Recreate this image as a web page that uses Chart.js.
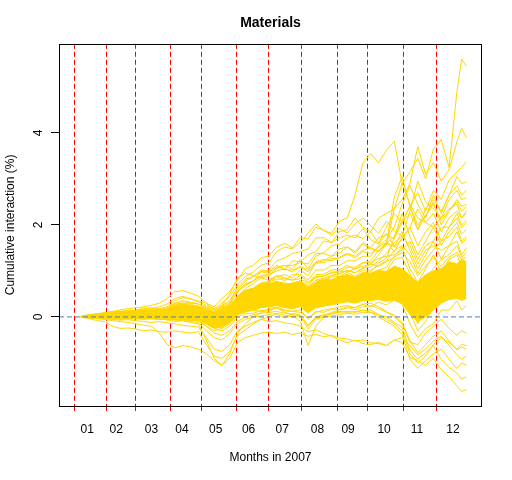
<!DOCTYPE html>
<html>
<head>
<meta charset="utf-8">
<script src="https://cdn.jsdelivr.net/npm/chart.js@4/dist/chart.umd.min.js"></script>
<style>
  body { margin: 0; background: #fff; }
  canvas { display: block; }
</style>
</head>
<body>
<canvas id="chart" width="512" height="480"></canvas>
<script>
// trading day index of each sample
const days = [5, 10, 15, 20, 25, 30, 35, 40, 45, 50, 55, 60, 65, 70, 75, 80, 85, 90, 95, 100,
  105, 110, 115, 120, 125, 130, 135, 140, 145, 150, 155, 160, 165, 170, 175, 180, 185, 190, 195, 200,
  205, 210, 215, 220, 225, 230, 235, 240, 245, 248, 251];

// first trading day of each month, and where the month labels sit
const monthStarts = [1, 21, 40, 62, 82, 104, 125, 146, 169, 188, 211, 232];
const monthTicks = [9, 27.5, 50, 69.5, 91, 112, 133.5, 156, 175.5, 198.5, 219.5, 242.5];
const monthLabels = ['01', '02', '03', '04', '05', '06', '07', '08', '09', '10', '11', '12'];
const yTicks = [0, 2, 4];

// dense core of the bundle
const coreHi = [0.02, 0.05, 0.07, 0.09, 0.11, 0.12, 0.13, 0.13, 0.15, 0.14, 0.16, 0.17, 0.24, 0.28, 0.25, 0.22,
  0.16, 0.1, 0.16, 0.26, 0.45, 0.58, 0.62, 0.7, 0.72, 0.78, 0.7, 0.74, 0.78, 0.62, 0.76, 0.82, 0.8,
  0.88, 0.92, 0.86, 0.96, 0.95, 1.02, 0.98, 1.1, 1.05, 0.9, 0.75, 0.92, 1.0, 1.05, 1.2, 1.15, 1.25, 1.2];
const coreLo = [-0.01, -0.02, -0.03, -0.04, -0.04, -0.05, -0.04, -0.04, -0.05, -0.04, -0.05, -0.06, -0.05, -0.07, -0.06, -0.08,
  -0.15, -0.25, -0.22, -0.12, 0.05, 0.12, 0.15, 0.2, 0.22, 0.25, 0.2, 0.18, 0.22, 0.1, 0.2, 0.24, 0.26,
  0.3, 0.33, 0.3, 0.35, 0.36, 0.38, 0.34, 0.36, 0.3, 0.05, -0.1, 0.0, 0.15, 0.3, 0.38, 0.4, 0.36, 0.4];

// individual firms
const series = [
  [0.01, 0.04, 0.06, 0.09, 0.12, 0.10, 0.15, 0.14, 0.20, 0.18, 0.22, 0.28, 0.40, 0.45, 0.38, 0.35, 0.30, 0.22, 0.40, 0.55,
   0.80, 1.05, 1.12, 1.28, 1.33, 1.52, 1.60, 1.50, 1.72, 1.70, 1.95, 1.88, 1.82, 2.08, 2.15, 2.65, 3.35, 3.55, 3.35, 3.62,
   3.82, 2.90, 3.15, 3.45, 3.00, 3.65, 3.85, 3.25, 4.90, 5.60, 5.45],
  [0.0, 0.02, 0.05, 0.04, 0.08, 0.1, 0.09, 0.1, 0.12, 0.15, 0.13, 0.16, 0.25, 0.3, 0.28, 0.22, 0.15, 0.1, 0.18, 0.3,
   0.55, 0.72, 0.78, 0.98, 0.95, 1.12, 1.02, 1.22, 1.2, 1.35, 1.42, 1.65, 1.62, 1.85, 1.9, 2.15, 1.95, 1.85, 2.15, 2.25,
   2.35, 2.55, 2.9, 3.7, 3.1, 3.35, 2.95, 3.2, 3.8, 4.1, 3.9],
  [0.0, 0.03, 0.02, 0.05, 0.06, 0.05, 0.08, 0.1, 0.08, 0.12, 0.14, 0.12, 0.2, 0.22, 0.18, 0.15, 0.1, 0.05, 0.12, 0.2,
   0.45, 0.62, 0.72, 0.85, 0.88, 1.05, 1.12, 1.05, 1.25, 1.05, 1.32, 1.4, 1.55, 1.58, 1.72, 1.78, 1.7, 1.85, 1.6, 1.95,
   2.25, 2.05, 2.4, 2.7, 2.3, 2.75, 2.55, 2.98, 3.15, 3.25, 3.37],
  [0.0, 0.01, 0.03, 0.02, 0.05, 0.04, 0.07, 0.08, 0.1, 0.09, 0.12, 0.1, 0.18, 0.2, 0.15, 0.12, 0.05, -0.02, 0.05, 0.15,
   0.4, 0.52, 0.6, 0.72, 0.78, 0.88, 0.92, 0.85, 1.02, 0.9, 1.18, 1.22, 1.32, 1.38, 1.52, 1.42, 1.62, 1.5, 1.72, 1.78,
   1.7, 2.05, 2.25, 1.9, 2.35, 2.55, 2.3, 2.65, 3.05, 2.9, 2.93],
  [0.0, 0.03, 0.06, 0.08, 0.1, 0.13, 0.12, 0.15, 0.17, 0.2, 0.18, 0.22, 0.35, 0.42, 0.4, 0.33, 0.25, 0.18, 0.3, 0.45,
   0.7, 0.88, 0.98, 1.12, 1.18, 1.42, 1.52, 1.48, 1.62, 1.82, 2.02, 1.88, 1.78, 1.92, 1.82, 2.02, 2.15, 1.98, 1.82, 2.08,
   1.88, 1.75, 2.3, 2.95, 2.5, 2.35, 2.15, 2.55, 2.75, 2.55, 2.6],
  [0.0, 0.02, 0.04, 0.06, 0.09, 0.08, 0.11, 0.12, 0.15, 0.14, 0.16, 0.2, 0.3, 0.34, 0.3, 0.28, 0.22, 0.15, 0.25, 0.35,
   0.6, 0.78, 0.88, 0.98, 1.02, 1.22, 1.28, 1.38, 1.42, 1.48, 1.72, 1.72, 1.62, 1.72, 1.78, 1.72, 1.92, 1.68, 1.58, 1.82,
   1.52, 1.68, 1.95, 2.35, 2.05, 1.95, 2.15, 2.35, 2.45, 2.15, 2.25],
  [0.0, 0.02, 0.03, 0.05, 0.07, 0.06, 0.1, 0.1, 0.12, 0.11, 0.14, 0.15, 0.28, 0.3, 0.25, 0.24, 0.18, 0.1, 0.2, 0.3,
   0.55, 0.68, 0.78, 0.88, 0.92, 1.08, 1.12, 1.12, 1.18, 1.15, 1.38, 1.38, 1.32, 1.48, 1.52, 1.38, 1.58, 1.48, 1.42, 1.62,
   1.42, 1.72, 1.95, 1.55, 1.85, 2.05, 1.65, 1.95, 2.15, 1.95, 2.05],
  [0.0, 0.01, 0.02, 0.03, 0.05, 0.06, 0.05, 0.07, 0.09, 0.08, 0.1, 0.12, 0.2, 0.24, 0.2, 0.18, 0.12, 0.05, 0.1, 0.2,
   0.45, 0.58, 0.62, 0.72, 0.73, 0.88, 0.78, 0.92, 0.93, 0.8, 1.02, 1.02, 1.12, 1.12, 1.22, 1.22, 1.32, 1.32, 1.55, 1.68,
   1.95, 2.45, 2.85, 2.45, 2.15, 2.65, 2.25, 2.65, 2.85, 2.65, 2.75],
  [0.0, 0.02, 0.01, 0.03, 0.04, 0.05, 0.04, 0.06, 0.05, 0.08, 0.09, 0.1, 0.15, 0.18, 0.14, 0.12, 0.08, 0.0, 0.06, 0.15,
   0.4, 0.52, 0.53, 0.62, 0.63, 0.72, 0.73, 0.72, 0.78, 0.68, 0.88, 0.88, 0.97, 0.98, 1.08, 1.08, 1.18, 1.22, 1.45, 1.55,
   2.35, 2.9, 2.45, 2.15, 2.05, 2.25, 1.85, 2.15, 2.3, 2.15, 2.3],
  [0.0, 0.01, 0.02, 0.02, 0.03, 0.04, 0.03, 0.05, 0.06, 0.05, 0.07, 0.08, 0.12, 0.15, 0.12, 0.1, 0.05, -0.05, 0.0, 0.1,
   0.3, 0.42, 0.48, 0.57, 0.58, 0.67, 0.68, 0.64, 0.68, 0.58, 0.74, 0.78, 0.87, 0.88, 0.97, 0.88, 1.02, 1.02, 1.12, 1.22,
   1.45, 1.55, 1.35, 0.95, 1.25, 1.45, 1.65, 1.75, 1.95, 1.65, 1.75],
  [0.0, -0.01, 0.0, 0.01, 0.02, 0.01, 0.03, 0.03, 0.02, 0.04, 0.05, 0.04, 0.08, 0.1, 0.07, 0.05, 0.0, -0.1, -0.05, 0.05,
   0.25, 0.32, 0.38, 0.47, 0.48, 0.57, 0.48, 0.47, 0.53, 0.38, 0.57, 0.58, 0.67, 0.68, 0.77, 0.7, 0.82, 0.82, 0.92, 0.98,
   1.25, 1.3, 0.95, 0.55, 0.85, 1.05, 1.25, 1.35, 1.55, 1.3, 1.4],
  [0.0, 0.0, -0.01, -0.02, -0.01, 0.0, -0.02, -0.01, 0.0, 0.02, 0.01, 0.03, 0.05, 0.06, 0.04, 0.02, -0.05, -0.15, -0.1, 0.0,
   0.2, 0.27, 0.28, 0.37, 0.38, 0.44, 0.36, 0.37, 0.38, 0.22, 0.42, 0.43, 0.52, 0.53, 0.62, 0.56, 0.64, 0.63, 0.72, 0.78,
   0.95, 0.95, 0.55, 0.15, 0.45, 0.65, 0.85, 0.95, 1.15, 0.9, 1.0],
  [0.0, 0.02, 0.04, 0.05, 0.06, 0.08, 0.07, 0.09, 0.1, 0.12, 0.11, 0.13, 0.22, 0.25, 0.2, 0.18, 0.1, 0.02, 0.08, 0.18,
   0.45, 0.57, 0.63, 0.74, 0.76, 0.82, 0.83, 0.8, 0.83, 0.73, 0.92, 0.93, 1.02, 1.03, 1.12, 1.03, 1.17, 1.18, 1.27, 1.32,
   1.35, 1.45, 1.65, 1.25, 1.55, 1.65, 1.95, 1.95, 2.25, 2.0, 2.1],
  [0.0, 0.0, 0.01, 0.0, 0.01, 0.02, 0.0, 0.01, 0.03, 0.02, 0.04, 0.03, 0.04, 0.02, 0.0, -0.02, -0.1, -0.2, -0.15, -0.08,
   0.1, 0.17, 0.18, 0.24, 0.23, 0.32, 0.26, 0.24, 0.23, 0.08, 0.22, 0.23, 0.32, 0.33, 0.4, 0.38, 0.44, 0.43, 0.52, 0.53,
   0.62, 0.6, 0.25, -0.15, 0.15, 0.25, 0.55, 0.55, 0.75, 0.55, 0.65],
  [0.0, 0.01, 0.0, 0.02, 0.03, 0.02, 0.04, 0.04, 0.05, 0.07, 0.06, 0.08, 0.1, 0.12, 0.1, 0.08, 0.02, -0.08, -0.02, 0.06,
   0.35, 0.47, 0.53, 0.62, 0.63, 0.72, 0.7, 0.7, 0.73, 0.63, 0.8, 0.8, 0.9, 0.93, 1.02, 0.96, 1.07, 1.08, 1.22, 1.38,
   1.62, 1.75, 1.55, 1.15, 1.45, 1.55, 1.45, 1.55, 1.85, 1.6, 1.7],
  [0.0, -0.01, -0.02, -0.03, -0.03, -0.04, -0.03, -0.04, -0.03, -0.02, -0.04, -0.05, -0.05, -0.06, -0.08, -0.07, -0.15, -0.25, -0.3, -0.2,
   0.0, 0.07, 0.08, 0.14, 0.13, 0.2, 0.13, 0.12, 0.1, -0.02, 0.12, 0.1, 0.17, 0.16, 0.22, 0.2, 0.27, 0.23, 0.32, 0.26,
   0.37, 0.28, -0.15, -0.45, -0.25, -0.15, 0.15, 0.15, 0.35, 0.15, 0.25],
  [0.0, 0.03, 0.05, 0.07, 0.1, 0.12, 0.11, 0.13, 0.15, 0.16, 0.15, 0.17, 0.3, 0.35, 0.32, 0.28, 0.2, 0.12, 0.22, 0.35,
   0.65, 0.82, 0.88, 1.02, 0.98, 1.12, 1.03, 1.02, 1.08, 0.98, 1.17, 1.18, 1.27, 1.28, 1.37, 1.28, 1.42, 1.38, 1.52, 1.62,
   1.52, 1.85, 1.45, 1.05, 1.35, 1.65, 1.25, 1.55, 1.65, 1.35, 1.5],
  [0.0, 0.01, 0.03, 0.04, 0.05, 0.07, 0.06, 0.08, 0.07, 0.09, 0.1, 0.11, 0.18, 0.2, 0.17, 0.15, 0.08, 0.0, 0.05, 0.12,
   0.38, 0.47, 0.5, 0.6, 0.6, 0.7, 0.63, 0.62, 0.66, 0.52, 0.72, 0.73, 0.82, 0.83, 0.92, 0.83, 0.97, 0.98, 1.17, 1.28,
   1.72, 2.25, 1.75, 1.35, 1.65, 1.95, 1.55, 1.85, 2.05, 1.8, 1.9],
  [0.0, -0.01, 0.01, 0.0, 0.01, 0.0, 0.02, 0.02, 0.03, 0.01, 0.03, 0.02, 0.06, 0.08, 0.05, 0.03, -0.05, -0.12, -0.08, 0.0,
   0.28, 0.37, 0.4, 0.5, 0.5, 0.6, 0.53, 0.52, 0.56, 0.42, 0.62, 0.63, 0.72, 0.73, 0.82, 0.75, 0.87, 0.88, 1.02, 1.08,
   1.32, 1.52, 1.05, 0.75, 1.05, 1.35, 0.95, 1.25, 1.35, 1.1, 1.2],
  [0.0, -0.02, -0.04, -0.05, -0.08, -0.1, -0.12, -0.15, -0.18, -0.2, -0.35, -0.6, -0.67, -0.62, -0.65, -0.7, -0.8, -0.95, -1.05, -0.9,
   -0.55, -0.45, -0.4, -0.35, -0.33, -0.36, -0.33, -0.38, -0.35, -0.42, -0.38, -0.43, -0.4, -0.46, -0.48, -0.52, -0.5, -0.56, -0.58, -0.62,
   -0.5, -0.56, -0.88, -0.95, -1.05, -0.9, -1.15, -1.3, -1.5, -1.62, -1.58],
  [0.0, -0.03, -0.08, -0.1, -0.2, -0.25, -0.24, -0.26, -0.3, -0.28, -0.32, -0.33, -0.3, -0.33, -0.35, -0.32, -0.6, -0.85, -0.9, -0.75,
   -0.4, -0.28, -0.15, -0.05, 0.0, 0.06, -0.02, 0.08, 0.04, -0.18, 0.0, 0.05, 0.08, 0.12, 0.1, 0.12, 0.15, 0.1, 0.05, 0.0,
   -0.12, -0.22, -0.72, -0.92, -0.78, -0.62, -0.92, -1.1, -1.22, -1.35, -1.3],
  [0.0, -0.01, -0.03, -0.04, -0.05, -0.07, -0.06, -0.08, -0.1, -0.12, -0.1, -0.13, -0.15, -0.18, -0.2, -0.22, -0.45, -0.7, -0.75, -0.6,
   -0.3, -0.2, -0.12, -0.05, -0.1, -0.08, -0.13, -0.15, -0.2, -0.32, -0.28, -0.36, -0.42, -0.5, -0.56, -0.5, -0.58, -0.6, -0.55, -0.62,
   -0.5, -0.45, -0.62, -0.82, -0.7, -0.52, -0.42, -0.62, -0.82, -0.92, -0.85],
  [0.0, 0.0, -0.02, -0.01, -0.02, -0.03, -0.01, -0.03, -0.02, -0.04, -0.05, -0.06, -0.1, -0.08, -0.12, -0.15, -0.5, -0.9, -1.05, -0.8,
   -0.35, -0.15, 0.0, 0.1, 0.15, 0.2, 0.1, 0.05, -0.1, -0.62, -0.2, 0.0, 0.1, 0.15, 0.2, 0.16, 0.22, 0.25, 0.18, 0.1,
   0.04, -0.12, -0.52, -0.78, -0.6, -0.42, -0.3, -0.52, -0.72, -0.65, -0.7],
  [0.0, 0.01, 0.0, -0.01, 0.0, -0.02, 0.0, 0.0, 0.01, -0.01, 0.0, -0.02, -0.03, -0.05, -0.04, -0.06, -0.2, -0.35, -0.4, -0.3,
   -0.1, 0.0, 0.05, 0.08, 0.1, 0.12, 0.08, 0.05, 0.02, -0.26, -0.05, 0.0, 0.02, 0.05, 0.08, 0.06, 0.1, 0.1, 0.0, -0.1,
   -0.2, -0.38, -0.92, -1.12, -0.95, -0.8, -0.7, -0.92, -1.12, -1.0, -1.05],
  [0.0, 0.02, 0.05, 0.08, 0.12, 0.15, 0.18, 0.2, 0.22, 0.25, 0.3, 0.4, 0.55, 0.57, 0.52, 0.45, 0.3, 0.15, 0.25, 0.5,
   0.85, 0.95, 0.9, 0.85, 0.8, 0.9, 0.85, 0.8, 0.9, 0.75, 0.85, 0.9, 0.95, 1.0, 0.98, 1.05, 1.1, 1.15, 1.1, 1.2,
   1.3, 1.4, 1.2, 0.9, 1.1, 1.3, 1.1, 1.3, 1.4, 1.25, 1.3],
  [0.0, 0.0, 0.01, 0.01, 0.02, 0.03, 0.02, 0.03, 0.04, 0.03, 0.05, 0.06, 0.08, 0.06, 0.05, 0.04, -0.02, -0.12, -0.08, 0.02,
   0.2, 0.28, 0.32, 0.38, 0.42, 0.45, 0.4, 0.38, 0.42, 0.3, 0.42, 0.48, 0.52, 0.58, 0.62, 0.6, 0.65, 0.7, 0.72, 0.75,
   0.8, 0.7, 0.1, -0.3, -0.1, 0.2, 0.4, 0.5, 0.6, 0.5, 0.55],
  [0.0, 0.01, -0.01, 0.0, -0.02, -0.01, -0.03, -0.02, -0.04, -0.03, -0.05, -0.04, -0.06, -0.05, -0.07, -0.09, -0.2, -0.3, -0.25, -0.15,
   0.05, 0.1, 0.15, 0.12, 0.18, 0.22, 0.15, 0.12, 0.16, -0.05, 0.1, 0.15, 0.18, 0.22, 0.25, 0.2, 0.28, 0.3, 0.22, 0.12,
   0.0, -0.15, -0.55, -0.6, -0.35, -0.2, -0.05, -0.25, -0.4, -0.3, -0.35],
  [0.0, 0.02, 0.04, 0.05, 0.07, 0.09, 0.08, 0.1, 0.12, 0.13, 0.12, 0.15, 0.25, 0.28, 0.24, 0.22, 0.15, 0.08, 0.15, 0.28,
   0.55, 0.7, 0.78, 0.9, 0.92, 1.0, 1.05, 0.98, 1.1, 1.02, 1.2, 1.25, 1.22, 1.3, 1.38, 1.32, 1.45, 1.5, 1.42, 1.6,
   1.75, 2.1, 2.4, 2.0, 2.2, 2.45, 2.1, 2.3, 2.5, 2.3, 2.4],
  [0.0, 0.01, 0.02, 0.01, 0.03, 0.04, 0.03, 0.05, 0.04, 0.06, 0.07, 0.06, 0.1, 0.12, 0.1, 0.08, 0.0, -0.1, -0.05, 0.05,
   0.28, 0.38, 0.45, 0.5, 0.55, 0.6, 0.56, 0.52, 0.6, 0.48, 0.62, 0.66, 0.7, 0.74, 0.8, 0.76, 0.84, 0.88, 0.92, 0.98,
   1.1, 1.0, 0.4, 0.1, 0.3, 0.6, 0.7, 0.9, 1.05, 0.85, 0.95],
  [0.0, 0.02, 0.03, 0.04, 0.06, 0.07, 0.06, 0.08, 0.1, 0.09, 0.11, 0.13, 0.2, 0.22, 0.19, 0.17, 0.1, 0.03, 0.08, 0.18,
   0.42, 0.52, 0.6, 0.66, 0.7, 0.76, 0.74, 0.7, 0.78, 0.65, 0.8, 0.84, 0.9, 0.95, 1.0, 0.96, 1.05, 1.15, 1.35, 1.6,
   2.6, 3.05, 2.4, 1.9, 2.2, 2.5, 2.0, 2.3, 2.55, 2.4, 2.45],
  [0.0, 0.0, -0.01, -0.02, -0.02, -0.03, -0.02, -0.03, -0.04, -0.03, -0.05, -0.06, -0.07, -0.08, -0.1, -0.12, -0.3, -0.45, -0.5, -0.35,
   -0.15, -0.05, 0.0, 0.02, 0.05, 0.08, 0.04, 0.0, 0.03, -0.2, -0.02, 0.03, 0.06, 0.1, 0.12, 0.1, 0.14, 0.15, 0.05, -0.05,
   -0.15, -0.3, -0.8, -1.0, -0.85, -0.6, -0.45, -0.55, -0.7, -0.6, -0.62]
];

const gold = '#FFD700';
const toPoints = vals => vals.map((v, i) => ({ x: days[i], y: v }));

const datasets = [
  {
    // zero reference line
    data: [{ x: -9, y: 0 }, { x: 261, y: 0 }],
    borderColor: '#4682B4',
    borderWidth: 1,
    borderDash: [5, 3]
  },
  {
    data: toPoints(coreHi),
    borderColor: gold,
    backgroundColor: gold,
    borderWidth: 1,
    fill: '+1'
  },
  {
    data: toPoints(coreLo),
    borderColor: gold,
    borderWidth: 1,
    fill: false
  }
];
series.forEach(s => {
  datasets.push({ data: toPoints(s), borderColor: gold, borderWidth: 1, fill: false });
});

const boxPlugin = {
  id: 'box',
  afterDraw(chart) {
    const { ctx, chartArea: a } = chart;
    ctx.save();
    ctx.strokeStyle = '#000';
    ctx.lineWidth = 1;
    ctx.setLineDash([]);
    ctx.strokeRect(Math.round(a.left) + 0.5, Math.round(a.top) + 0.5,
      Math.round(a.right - a.left) - 1, Math.round(a.bottom - a.top));
    ctx.restore();
  }
};

const font = { family: 'Liberation Sans, Arial, sans-serif', size: 12 };

new Chart(document.getElementById('chart'), {
  type: 'line',
  data: { datasets },
  plugins: [boxPlugin],
  options: {
    responsive: false,
    animation: false,
    events: [],
    layout: { padding: { left: 0, right: 30, top: 0, bottom: 0 } },
    elements: { point: { radius: 0 }, line: { tension: 0 } },
    plugins: {
      legend: { display: false },
      tooltip: { enabled: false },
      title: {
        display: true,
        text: 'Materials',
        color: '#000',
        fullSize: false,
        font: { family: font.family, size: 14, weight: 'bold' },
        padding: { top: 15, bottom: 12 }
      }
    },
    scales: {
      xm: {
        type: 'linear',
        position: 'bottom',
        min: -9,
        max: 261,
        weight: 0,
        z: 1,
        afterBuildTicks: s => { s.ticks = monthStarts.map(v => ({ value: v })); },
        afterFit: s => { s.height = 5; },
        ticks: { display: false },
        border: { display: false, dash: [5, 3] },
        grid: {
          color: '#FF0000',
          lineWidth: 1,
          drawTicks: true,
          tickLength: 5,
          tickColor: '#FF0000',
          tickBorderDash: [5, 3]
        }
      },
      x: {
        type: 'linear',
        position: 'bottom',
        min: -9,
        max: 261,
        weight: 1,
        afterBuildTicks: s => { s.ticks = monthTicks.map(v => ({ value: v })); },
        afterFit: s => { s.height = 69; },
        border: { display: false },
        grid: { display: false, drawTicks: false },
        ticks: {
          autoSkip: false,
          maxRotation: 0,
          padding: 11,
          color: '#000',
          font,
          callback: (v, i) => monthLabels[i]
        },
        title: {
          display: true,
          text: 'Months in 2007',
          color: '#000',
          font,
          padding: { top: 0, bottom: 15 }
        }
      },
      y: {
        type: 'linear',
        min: -1.935,
        max: 5.935,
        afterBuildTicks: s => { s.ticks = yTicks.map(v => ({ value: v })); },
        afterFit: s => { s.width = 59; },
        border: { display: false },
        grid: {
          drawOnChartArea: false,
          drawTicks: true,
          tickLength: 8,
          tickColor: '#000',
          color: '#000'
        },
        ticks: {
          minRotation: 90,
          maxRotation: 90,
          crossAlign: 'center',
          padding: 9,
          color: '#000',
          font,
          callback: v => String(v)
        },
        title: {
          display: true,
          text: 'Cumulative interaction (%)',
          color: '#000',
          font,
          padding: { top: 3, bottom: 0 }
        }
      }
    }
  }
});
</script>
</body>
</html>
